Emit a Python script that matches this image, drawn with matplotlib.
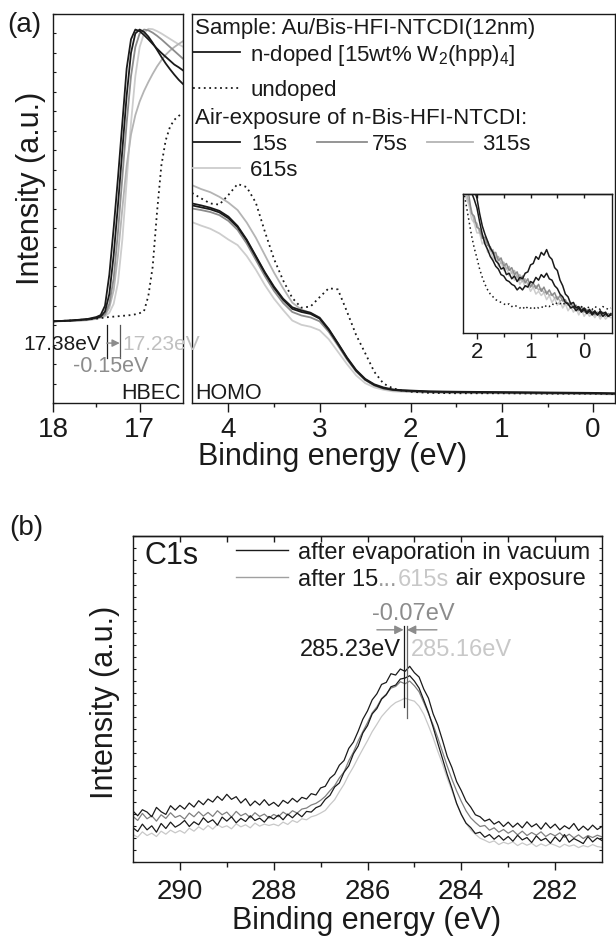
import numpy as np
import matplotlib
matplotlib.use('Agg')
import matplotlib.pyplot as plt
from matplotlib.lines import Line2D
from matplotlib.ticker import FixedLocator, NullFormatter, MultipleLocator

plt.rcParams['font.family'] = ['Liberation Sans', 'DejaVu Sans']
plt.rcParams['mathtext.fontset'] = 'custom'
plt.rcParams['mathtext.rm'] = 'Liberation Sans'
plt.rcParams['mathtext.it'] = 'Liberation Sans:italic'
plt.rcParams['mathtext.bf'] = 'Liberation Sans:bold'
plt.rcParams['axes.linewidth'] = 1.0
plt.rcParams['text.color'] = '#1a1a1a'
plt.rcParams['axes.edgecolor'] = '#1a1a1a'
plt.rcParams['xtick.color'] = '#1a1a1a'
plt.rcParams['ytick.color'] = '#1a1a1a'

# ---------------- data: panel (a), HBEC (secondary electron cutoff) ----------------
hbec_energy = [18.0, 17.8, 17.6, 17.5, 17.45, 17.4, 17.35, 17.3, 17.25, 17.2, 17.15, 17.1,
               17.05, 17.0, 16.95, 16.9, 16.85, 16.8, 16.75, 16.7, 16.65, 16.6, 16.55, 16.5]
hbec_ndoped = [21.0, 21.2, 21.6, 22.1, 22.6, 25.0, 33.0, 45.0, 58.0, 72.0, 86.0, 93.5,
               96.0, 95.6, 94.6, 93.5, 92.3, 91.1, 90.0, 89.0, 88.0, 87.0, 86.3, 85.5]
hbec_15s = [21.0, 21.2, 21.5, 21.9, 22.2, 23.5, 28.0, 38.0, 51.0, 65.0, 79.0, 90.0,
            95.0, 96.0, 95.4, 94.2, 92.6, 90.8, 89.0, 87.3, 85.8, 84.4, 83.1, 82.0]
hbec_75s = [21.0, 21.1, 21.4, 21.8, 22.1, 22.8, 25.5, 32.0, 44.0, 58.0, 72.0, 84.0,
            91.5, 95.0, 96.0, 95.8, 95.2, 94.4, 93.5, 92.5, 91.5, 90.5, 89.5, 88.5]
hbec_315s = [21.0, 21.1, 21.3, 21.7, 22.0, 22.5, 24.5, 29.0, 38.0, 50.0, 61.0, 69.0,
             74.0, 77.5, 80.2, 82.5, 84.6, 86.5, 88.1, 89.5, 90.6, 91.5, 92.3, 93.0]
hbec_615s = [21.0, 21.1, 21.3, 21.6, 21.9, 22.3, 23.2, 25.5, 31.0, 42.0, 57.0, 72.0,
             84.0, 91.5, 95.0, 96.2, 96.1, 95.6, 95.0, 94.3, 93.6, 92.9, 92.2, 91.6]
hbec_undoped = [21.0, 21.2, 21.5, 21.7, 21.8, 22.0, 22.1, 22.2, 22.3, 22.4, 22.5, 22.6,
                22.8, 23.1, 23.6, 27.5, 35.0, 49.0, 61.0, 67.5, 71.0, 72.8, 73.8, 74.5]
cutoff_ndoped = 17.38
cutoff_air = 17.23

# ---------------- data: panel (a), HOMO region ----------------
homo_energy = [4.4, 4.3, 4.2, 4.1, 4.0, 3.9, 3.8, 3.7, 3.6, 3.5, 3.4, 3.3, 3.2, 3.1, 3.0, 2.9,
               2.8, 2.7, 2.6, 2.5, 2.4, 2.3, 2.2, 2.1, 2.0, 1.8, 1.5, 1.0, 0.5, 0.0, -0.24]
homo_ndoped = [50.8, 50.3, 49.8, 49.0, 47.5, 45.2, 41.8, 37.6, 33.4, 29.6, 26.5, 24.2, 23.4, 22.9, 21.7, 18.8,
               15.2, 11.5, 8.3, 6.0, 4.6, 3.8, 3.4, 3.2, 3.1, 2.9, 2.8, 2.7, 2.6, 2.5, 2.4]
homo_15s = [51.3, 50.8, 50.2, 49.4, 47.9, 45.5, 42.0, 37.8, 33.6, 29.9, 26.8, 24.6, 23.8, 23.2, 21.9, 19.0,
            15.4, 11.7, 8.5, 6.2, 4.8, 4.0, 3.5, 3.3, 3.2, 3.0, 2.9, 2.8, 2.7, 2.6, 2.5]
homo_75s = [50.0, 49.6, 49.1, 48.3, 46.8, 44.5, 41.0, 36.8, 32.6, 28.8, 25.7, 23.4, 22.5, 22.0, 21.0, 18.3,
            14.8, 11.2, 8.1, 5.9, 4.5, 3.7, 3.3, 3.1, 3.0, 2.8, 2.7, 2.6, 2.5, 2.4, 2.3]
homo_315s = [56.0, 55.0, 54.2, 53.0, 51.5, 49.6, 46.4, 42.5, 38.0, 33.5, 29.5, 25.8, 24.0, 23.2, 22.0, 19.0,
             15.3, 11.6, 8.3, 6.0, 4.6, 3.7, 3.3, 3.1, 3.0, 2.8, 2.7, 2.6, 2.5, 2.4, 2.3]
homo_615s = [46.5, 45.6, 44.8, 43.6, 42.0, 40.6, 37.8, 34.3, 30.3, 26.8, 23.9, 21.2, 20.1, 19.6, 18.7, 16.4,
             13.2, 10.0, 7.1, 5.1, 4.0, 3.4, 3.0, 2.9, 2.8, 2.7, 2.6, 2.5, 2.4, 2.3, 2.2]
homo_undoped = [54.0, 52.6, 51.3, 51.0, 53.5, 56.3, 55.5, 51.5, 44.0, 37.0, 31.5, 27.0, 24.5, 24.8, 27.2, 29.5,
                29.2, 23.5, 17.5, 12.8, 8.0, 5.0, 3.8, 3.2, 2.9, 2.6, 2.5, 2.5, 2.4, 2.4, 2.3]

# ---------------- data: inset (gap-state region, magnified) ----------------
inset_energy = np.round(np.arange(2.25, -0.501, -0.05), 2)
inset_ndoped = [135, 124, 116, 109, 103, 97, 86, 77, 71, 66,
                61, 58, 52, 50, 46, 47, 42, 43, 39, 41,
                37, 40, 39, 43, 44, 49, 50, 55, 53, 58,
                56, 60, 55, 53, 47, 45, 38, 34, 28, 26,
                21, 22, 18, 19, 16, 18, 15, 17, 14, 16,
                13, 16, 14, 15, 12, 14]
inset_15s = [128, 119, 110, 101, 96, 90, 80, 71, 64, 60,
             55, 52, 48, 46, 42, 41, 38, 37, 35, 34,
             31, 33, 31, 34, 33, 37, 36, 40, 38, 42,
             40, 43, 39, 38, 34, 32, 28, 26, 22, 21,
             18, 19, 16, 18, 15, 17, 14, 16, 13, 15,
             13, 15, 12, 14, 12, 13]
inset_undoped = [102, 92, 81, 70, 61, 54, 46, 40, 35, 31,
                 28, 26, 24, 23, 22, 21, 20, 21, 19, 20,
                 19, 18, 19, 17, 19, 18, 17, 19, 18, 19,
                 18, 20, 19, 21, 20, 22, 21, 22, 20, 22,
                 21, 19, 20, 18, 19, 17, 19, 18, 17, 19,
                 18, 17, 19, 18, 17, 18]
inset_75s = [118, 104, 99, 86, 84, 76, 75, 68, 69, 63,
             62, 57, 58, 52, 54, 48, 50, 45, 47, 42,
             44, 38, 41, 36, 39, 33, 36, 32, 35, 30,
             33, 28, 31, 27, 29, 24, 27, 23, 24, 20,
             22, 18, 20, 16, 19, 15, 17, 14, 16, 13,
             15, 12, 15, 12, 14, 13]
inset_315s = [112, 101, 94, 88, 80, 79, 72, 71, 65, 66,
              59, 60, 54, 55, 50, 51, 46, 48, 43, 45,
              40, 42, 37, 39, 35, 36, 33, 34, 31, 32,
              29, 30, 27, 28, 25, 26, 23, 24, 21, 22,
              19, 20, 17, 18, 16, 17, 14, 16, 13, 15,
              13, 14, 12, 14, 12, 13]
inset_615s = [108, 97, 92, 82, 79, 72, 72, 64, 66, 58,
              60, 53, 56, 48, 51, 45, 47, 41, 44, 38,
              41, 35, 38, 33, 35, 30, 33, 28, 30, 27,
              29, 24, 27, 22, 25, 20, 23, 18, 21, 16,
              19, 15, 18, 13, 17, 12, 15, 12, 14, 11,
              14, 10, 13, 10, 12, 11]

# ---------------- data: panel (b), C1s ----------------
c1s_energy = np.round(np.arange(291.0, 280.95, -0.1), 1)
c1s_vacuum = [15.2, 13.8, 15.6, 14.9, 13.5, 16.3, 15.0, 14.2, 16.8, 15.5,
              16.9, 15.8, 17.6, 16.4, 18.3, 17.1, 18.8, 17.9, 19.6, 18.4,
              20.2, 18.7, 19.5, 17.6, 18.9, 16.8, 18.2, 17.0, 18.6, 16.9,
              17.8, 16.6, 18.4, 17.5, 19.0, 17.9, 19.3, 18.8, 20.4, 20.0,
              22.1, 22.6, 25.0, 26.2, 28.9, 30.3, 33.9, 35.8, 39.0, 42.6,
              45.1, 48.4, 50.2, 53.0, 53.6, 56.2, 55.8, 57.6, 56.9, 58.4,
              56.5, 55.2, 51.6, 48.9, 44.2, 40.8, 36.3, 31.5, 28.2, 24.0,
              21.3, 18.2, 16.4, 14.1, 13.5, 12.2, 12.8, 11.3, 12.1, 10.6,
              11.9, 10.4, 11.6, 10.2, 12.0, 10.5, 11.4, 9.8, 11.7, 10.1,
              11.3, 9.6, 10.8, 9.9, 11.5, 9.4, 10.7, 9.5, 11.0, 9.7,
              10.6]
c1s_15s = [10.2, 9.1, 11.3, 9.6, 10.8, 8.9, 11.5, 10.0, 11.9, 10.4,
           11.2, 12.4, 10.6, 12.0, 11.1, 13.2, 11.8, 12.6, 11.0, 13.4,
           12.2, 13.5, 11.7, 13.0, 12.1, 13.8, 12.4, 13.1, 11.9, 13.6,
           12.8, 14.0, 12.6, 14.3, 13.2, 14.6, 13.5, 15.1, 14.9, 16.2,
           16.8, 18.7, 19.9, 22.4, 23.6, 26.8, 28.7, 32.3, 34.6, 38.5,
           40.7, 44.2, 45.8, 48.6, 49.9, 52.3, 52.8, 54.6, 54.9, 55.6,
           54.0, 51.9, 48.3, 44.6, 40.2, 35.4, 30.8, 26.1, 22.0, 17.5,
           14.2, 11.6, 10.3, 8.5, 8.9, 7.4, 8.2, 6.8, 7.9, 6.5,
           7.6, 6.2, 8.0, 6.6, 7.3, 5.8, 7.8, 6.4, 7.1, 5.6,
           7.5, 6.1, 8.2, 5.9, 7.0, 6.3, 5.5, 7.6, 6.0, 7.2,
           6.4]
c1s_75s = [13.6, 12.4, 14.5, 12.9, 13.8, 12.2, 14.1, 13.0, 14.7, 13.3,
           13.9, 12.8, 14.6, 13.5, 15.0, 13.7, 14.8, 13.6, 15.3, 14.1,
           14.9, 13.4, 15.1, 13.8, 14.5, 13.2, 14.7, 13.6, 14.3, 13.1,
           14.2, 13.5, 14.9, 14.0, 15.3, 14.6, 15.8, 16.1, 17.0, 17.5,
           18.4, 19.6, 21.3, 22.8, 25.1, 26.9, 30.2, 32.8, 36.1, 38.9,
           41.6, 44.5, 46.3, 48.8, 50.1, 51.9, 52.4, 53.8, 53.2, 54.0,
           52.6, 50.8, 47.6, 44.3, 40.9, 37.0, 32.8, 28.6, 24.7, 21.2,
           18.1, 15.3, 13.2, 11.8, 10.6, 10.9, 9.5, 10.2, 8.9, 9.7,
           8.6, 9.4, 8.1, 9.2, 7.9, 8.8, 8.0, 9.0, 7.6, 8.5,
           7.8, 8.7, 7.4, 8.3, 7.2, 8.1, 7.0, 7.9, 7.3, 8.0,
           7.5]
c1s_615s = [8.2, 7.4, 9.0, 7.9, 8.6, 7.6, 9.2, 8.3, 9.5, 8.7,
            9.4, 8.6, 10.1, 9.2, 10.5, 9.6, 10.9, 9.8, 11.2, 10.3,
            10.8, 9.9, 11.4, 10.5, 11.1, 10.2, 11.6, 10.7, 11.3, 10.9,
            11.3, 10.8, 11.9, 11.2, 12.4, 11.8, 12.9, 12.6, 13.5, 13.9,
            14.6, 15.4, 17.1, 18.6, 21.0, 23.2, 26.0, 28.4, 31.1, 33.7,
            36.2, 38.9, 41.1, 43.4, 45.0, 46.5, 47.6, 48.2, 48.9, 48.4,
            48.0, 46.5, 44.1, 40.7, 37.1, 33.0, 29.2, 25.0, 21.3, 17.4,
            14.1, 11.6, 9.6, 8.3, 7.1, 6.5, 5.8, 6.3, 5.2, 5.9,
            5.4, 6.0, 4.9, 5.7, 5.0, 5.6, 4.6, 5.4, 4.8, 5.5,
            5.0, 4.4, 5.3, 4.7, 5.1, 4.3, 4.9, 4.5, 5.2, 4.6,
            4.4]
peak_vacuum = 285.23
peak_air = 285.16

# ---------------- styling ----------------
K = '#1a1a1a'
G75 = '#8c8c8c'
G315 = '#b4b4b4'
G615 = '#cdcdcd'
DOT = (0, (1, 2))

W, H = 616, 940
fig = plt.figure(figsize=(W / 100, H / 100), dpi=100)


def add_ax(l, t, r, b):
    return fig.add_axes([l / W, 1 - b / H, (r - l) / W, (b - t) / H])


def fx(x):
    return x / W


def fy(y):
    return 1 - y / H


def fline(x0, x1, y, **kw):
    fig.add_artist(Line2D([fx(x0), fx(x1)], [fy(y), fy(y)], transform=fig.transFigure, **kw))


def ftext(x, y, s, **kw):
    kw.setdefault('va', 'center_baseline')
    kw.setdefault('ha', 'left')
    return fig.text(fx(x), fy(y), s, **kw)


def seq_text(x, y, pieces, size):
    r = fig.canvas.get_renderer()
    for s, c in pieces:
        t = ftext(x, y, s, color=c, fontsize=size)
        x += t.get_window_extent(r).width


# ---------------- panel (a) left: HBEC ----------------
axL = add_ax(53, 14, 183, 403)
for y, c, ls in [(hbec_615s, G615, '-'), (hbec_315s, G315, '-'), (hbec_75s, G75, '-'),
                 (hbec_undoped, K, DOT), (hbec_15s, K, '-'), (hbec_ndoped, K, '-')]:
    axL.plot(hbec_energy, y, color=c, lw=1.3, ls=ls)
axL.set_xlim(18, 16.5)
axL.set_ylim(0, 100)
axL.xaxis.set_major_locator(FixedLocator([18, 17]))
axL.xaxis.set_minor_locator(FixedLocator([17.5]))
axL.tick_params(axis='x', which='major', direction='out', length=6.5, width=1, labelsize=20, pad=3.5)
axL.tick_params(axis='x', which='minor', direction='out', length=3, width=1)
axL.yaxis.set_major_locator(MultipleLocator(5))
axL.tick_params(axis='y', which='both', direction='in', length=2.5, width=0.8, labelleft=False)

axL.plot([cutoff_ndoped] * 2, [11.6, 20.1], color=K, lw=0.9, clip_on=False)
axL.plot([cutoff_air] * 2, [11.6, 20.1], color='#555555', lw=0.9, clip_on=False)
axL.annotate('', xy=(cutoff_air, 15.4), xytext=(cutoff_ndoped, 15.4),
             arrowprops=dict(arrowstyle='-|>', color='#8c8c8c', lw=1.0, mutation_scale=11,
                             shrinkA=0, shrinkB=0))

# ---------------- panel (a) right: HOMO ----------------
axR = add_ax(192, 14, 615, 403)
for y, c, ls in [(homo_615s, G615, '-'), (homo_315s, G315, '-'), (homo_75s, G75, '-'),
                 (homo_undoped, K, DOT), (homo_15s, K, '-'), (homo_ndoped, K, '-')]:
    axR.plot(homo_energy, y, color=c, lw=1.3, ls=ls)
axR.set_xlim(4.4, -0.24)
axR.set_ylim(0, 100)
axR.xaxis.set_major_locator(FixedLocator([4, 3, 2, 1, 0]))
axR.xaxis.set_minor_locator(FixedLocator([3.5, 2.5, 1.5, 0.5]))
axR.tick_params(axis='x', which='major', direction='out', length=6.5, width=1, labelsize=20, pad=3.5)
axR.tick_params(axis='x', which='minor', direction='out', length=3, width=1)
axR.set_yticks([])

# ---------------- inset ----------------
axI = add_ax(463, 194, 612, 333)
for y, c, ls in [(inset_615s, G615, '-'), (inset_315s, G315, '-'), (inset_75s, G75, '-'),
                 (inset_undoped, K, DOT), (inset_15s, K, '-'), (inset_ndoped, K, '-')]:
    axI.plot(inset_energy, y, color=c, lw=1.1, ls=ls)
axI.set_xlim(2.26, -0.52)
axI.set_ylim(0, 100)
axI.xaxis.set_major_locator(FixedLocator([2, 1, 0]))
axI.xaxis.set_minor_locator(FixedLocator([1.5, 0.5]))
axI.tick_params(axis='x', which='major', direction='out', length=4.5, width=1, labelsize=16, pad=2)
axI.tick_params(axis='x', which='minor', direction='out', length=3, width=1)
axI.set_yticks([])
secI = axI.secondary_xaxis('top')
secI.set_xticks([2, 1.5, 1, 0.5, 0])
secI.xaxis.set_major_formatter(NullFormatter())
secI.tick_params(direction='in', length=3, width=1)

# ---------------- panel (a) texts ----------------
ftext(24, 25, '(a)', ha='center', va='center', fontsize=20)
ftext(31, 188, 'Intensity (a.u.)', ha='center', va='center', rotation=90, fontsize=22)
ftext(333, 457, 'Binding energy (eV)', ha='center', va='center', fontsize=22)
ftext(101, 343, '17.38eV', ha='right', color=K, fontsize=15)
ftext(122, 343, '17.23eV', color='#c0c0c0', fontsize=15)
ftext(111, 364, '-0.15eV', ha='center', color='#8c8c8c', fontsize=15.5)
ftext(181, 391, 'HBEC', ha='right', fontsize=15.5)
ftext(195, 391, 'HOMO', fontsize=15.5)

ftext(195, 26, 'Sample: Au/Bis-HFI-NTCDI(12nm)', fontsize=16)
fline(193, 240, 52, color=K, lw=1.3)
ftext(250, 52, 'n-doped [15wt% W$_2$(hpp)$_4$]', fontsize=16)
fline(193, 240, 88, color=K, lw=1.3, ls=DOT)
ftext(250, 88, 'undoped', fontsize=16)
ftext(195, 116, 'Air-exposure of n-Bis-HFI-NTCDI:', fontsize=16)
fline(193, 240, 142, color=K, lw=1.3)
ftext(251, 142, '15s', fontsize=16)
fline(317, 367, 142, color=G75, lw=1.3)
ftext(372, 142, '75s', fontsize=16)
fline(427, 473, 142, color=G315, lw=1.3)
ftext(482, 142, '315s', fontsize=16)
fline(193, 240, 168, color=G615, lw=1.3)
ftext(250, 168, '615s', fontsize=16)

# ---------------- panel (b): C1s ----------------
axB = add_ax(133, 536, 602, 862)
for y, c in [(c1s_615s, '#c8c8c8'), (c1s_75s, '#808080'), (c1s_15s, K), (c1s_vacuum, K)]:
    axB.plot(c1s_energy, y, color=c, lw=0.9)
axB.set_xlim(291, 281)
axB.set_ylim(0, 97.3)
axB.xaxis.set_major_locator(FixedLocator([290, 288, 286, 284, 282]))
axB.xaxis.set_minor_locator(FixedLocator([289, 287, 285, 283]))
axB.tick_params(axis='x', which='major', direction='out', length=6, width=1, labelsize=20, pad=6)
axB.tick_params(axis='x', which='minor', direction='out', length=3.6, width=1)
axB.yaxis.set_major_locator(MultipleLocator(3.6))
axB.tick_params(axis='y', which='both', left=True, right=True, direction='in', length=2.5,
                width=0.8, labelleft=False)
secB = axB.secondary_xaxis('top')
secB.set_xticks([290, 289, 288, 287, 286, 285, 284, 283, 282])
secB.xaxis.set_major_formatter(NullFormatter())
secB.tick_params(direction='in', length=4, width=1)

axB.plot([peak_vacuum] * 2, [46.3, 70.4], color=K, lw=0.9)
axB.plot([peak_air] * 2, [43.0, 70.4], color='#666666', lw=0.9)
axB.annotate('', xy=(peak_vacuum, 69.3), xytext=(peak_vacuum + 0.57, 69.3),
             arrowprops=dict(arrowstyle='-|>', color='#8c8c8c', lw=1.0, mutation_scale=13,
                             shrinkA=0, shrinkB=0))
axB.annotate('', xy=(peak_air, 69.3), xytext=(peak_air - 0.64, 69.3),
             arrowprops=dict(arrowstyle='-|>', color='#8c8c8c', lw=1.0, mutation_scale=13,
                             shrinkA=0, shrinkB=0))

ftext(26, 528, '(b)', ha='center', va='center', fontsize=20)
ftext(105, 702, 'Intensity (a.u.)', ha='center', va='center', rotation=90, fontsize=22)
ftext(367, 921, 'Binding energy (eV)', ha='center', va='center', fontsize=22)
ftext(145, 553, 'C1s', fontsize=22)
fline(236, 288, 550, color=K, lw=1.0)
ftext(298, 550, 'after evaporation in vacuum', fontsize=17)
fline(236, 288, 577, color='#a0a0a0', lw=1.0)
seq_text(298, 577, [('after 15', K), ('...', '#9a9a9a'), ('615s', '#c8c8c8'),
                    (' air exposure', K)], 17)
ftext(413, 611, '-0.07eV', ha='center', color='#8c8c8c', fontsize=17)
ftext(401, 648, '285.23eV', ha='right', color=K, fontsize=17)
ftext(411, 648, '285.16eV', color='#c8c8c8', fontsize=17)

fig.savefig('out.png', dpi=100)
